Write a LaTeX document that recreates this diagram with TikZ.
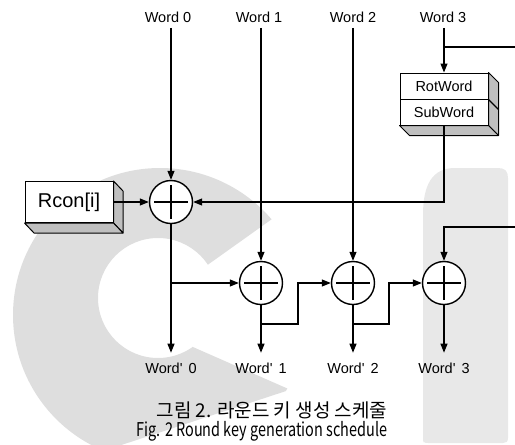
\documentclass[tikz,border=0pt]{standalone}
\usepackage{fontspec}
\setmainfont{Liberation Sans}
\newfontfamily\krfont{Noto Sans CJK KR}
\usetikzlibrary{arrows.meta}
\begin{document}
\begin{tikzpicture}[x=1pt,y=-1pt,
  wmC/.style={fill=black!13},
  wmR/.style={fill=black!9},
  ln/.style={line width=1.1pt},
  ar/.style={ln,-{Triangle[length=9pt,width=7pt]}},
  toplbl/.style={inner sep=0pt,outer sep=5pt,font=\fontsize{14.5}{16}\selectfont},
  botlbl/.style={inner sep=0pt,outer sep=10pt,font=\fontsize{14.5}{16}\selectfont},
  xorc/.style={circle,draw,line width=1.4pt,fill=white,minimum size=43pt,inner sep=0pt,
    path picture={\draw[line width=2.8pt]
      ([xshift=-17pt]path picture bounding box.center) -- ([xshift=17pt]path picture bounding box.center)
      ([yshift=-17pt]path picture bounding box.center) -- ([yshift=17pt]path picture bounding box.center);}},
  frontbox/.style={draw,line width=1pt,fill=white,inner sep=0pt,minimum width=88pt},
  sideface/.style={draw,line width=1pt,fill=black!25,line join=round}
]
\useasboundingbox (0,0) rectangle (515,445);
% watermark "C"
\begin{scope}
  \clip (207.9,264.7) -- (335.3,173.9) -- (335.3,-50) -- (-50,-50) -- (-50,500)
        -- (100,452) -- (290.1,389.7) -- (192.7,346.9) -- cycle;
  \fill[wmC,even odd rule] (160,315) circle[radius=147pt] (158,298) circle[radius=60pt];
\end{scope}
% watermark bar
\fill[wmR] (423,443) -- (423,215) .. controls (423,185) and (432,168) .. (455,168) -- (498,168)
  .. controls (505,168) and (508,171) .. (508,178) -- (508,438) .. controls (508,442) and (506,443) .. (503,443)
  -- (428,443) .. controls (424,443) and (423,442) .. (423,438) -- cycle;

% top labels
\node[toplbl] (w0) at (168,17.5) {Word 0};
\node[toplbl] (w1) at (259,17.5) {Word 1};
\node[toplbl] (w2) at (353,17.5) {Word 2};
\node[toplbl] (w3) at (443,17.5) {Word 3};

% RotWord / SubWord box
\node[frontbox,minimum height=26pt] (rot) at (444,86) {\fontsize{14.5}{16}\selectfont RotWord};
\node[frontbox,minimum height=26pt] (sub) at (444,112) {\fontsize{14.5}{16}\selectfont SubWord};
\filldraw[sideface] (rot.north east) -- ++(10,10) -- ([shift={(10,10)}]sub.south east) -- (sub.south east) -- cycle;
\filldraw[sideface] (sub.south west) -- (sub.south east) -- ++(10,10) -- ([shift={(10,10)}]sub.south west) -- cycle;
\draw[ln] (rot.south east) -- ++(10,10);

% Rcon box
\node[frontbox,minimum height=41pt] (rcon) at (69,202) {\fontsize{20}{22}\selectfont Rcon[i]};
\filldraw[sideface] (rcon.north east) -- ++(9.5,10) -- ([shift={(9.5,10)}]rcon.south east) -- (rcon.south east) -- cycle;
\filldraw[sideface] (rcon.south west) -- (rcon.south east) -- ++(9.5,10) -- ([shift={(9.5,10)}]rcon.south west) -- cycle;

% xor circles
\node[xorc] (x0) at (171,202) {};
\node[xorc] (x1) at (261,283) {};
\node[xorc] (x2) at (353,283) {};
\node[xorc] (x3) at (444,283) {};

% bottom labels
\node[botlbl] (o0) at (171,368) {Word\textquotesingle\hspace{6pt}0};
\node[botlbl] (o1) at (261,368) {Word\textquotesingle\hspace{6pt}1};
\node[botlbl] (o2) at (353,368) {Word\textquotesingle\hspace{6pt}2};
\node[botlbl] (o3) at (444,368) {Word\textquotesingle\hspace{6pt}3};

% captions
\node[inner sep=0pt,font=\krfont\fontsize{19}{22}\selectfont] (cap1) at (272,410) {그림 2. 라운드 키 생성 스케줄};
\node[inner sep=0pt,font=\krfont\fontsize{19}{22}\selectfont] (cap2) at (262,431) {\scalebox{0.76}[1]{Fig. 2 Round key generation schedule}};

% free ends
\coordinate (e1) at (515,47);
\coordinate (e2) at (515,227);
\coordinate (b1) at (298,324);
\coordinate (b2) at (389,324);

% connectors
\draw[ar] (w0.south -| x0) -- (x0);
\draw[ar] (w1.south -| x1) -- (x1);
\draw[ar] (w2.south) -- (x2);
\draw[ar] (w3.south -| rot) -- (rot);
\draw[ln] (rot |- e1) -- (e1);
\draw[ar] (sub.south) |- (x0.east);
\draw[ar] (rcon.east) -- (x0.west);
\draw[ar] (x0) -- (o0);
\draw[ar] (x0 |- x1) -- (x1.west);
\draw[ar] (x1) -- (o1);
\draw[ar] (x2) -- (o2);
\draw[ar] (x3) -- (o3);
\draw[ar] (x1 |- b1) -- (b1) |- (x2.west);
\draw[ar] (x2 |- b2) -- (b2) |- (x3.west);
\draw[ar] (e2) -| (x3.north);
\end{tikzpicture}
\end{document}
